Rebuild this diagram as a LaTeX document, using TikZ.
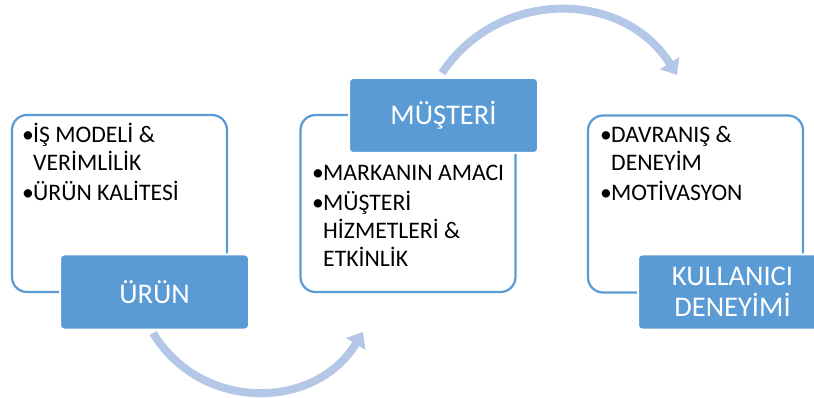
\documentclass[tikz,border=0pt]{standalone}
\usepackage{fontspec}
\setmainfont{Carlito}
\usetikzlibrary{arrows.meta,positioning}
\definecolor{smartBlue}{RGB}{91,155,213}
\definecolor{flowBlue}{RGB}{180,199,231}
\newcommand{\bul}{\makebox[11pt][l]{\textbullet}}

\begin{document}
\begin{tikzpicture}[
        x=1pt, y=-1pt,
        panel/.style={draw=smartBlue, line width=2.25pt, rounded corners=15pt,
          fill=white, minimum width=215pt, minimum height=177pt, inner sep=0pt},
        tag/.style={draw=white, line width=2pt, fill=smartBlue, rounded corners=4pt,
          minimum width=189pt, minimum height=75pt, inner sep=0pt, text=white,
          align=center, font=\fontsize{28.5}{31}\selectfont},
        notes/.style={anchor=base west, inner sep=0pt, font=\fontsize{23.7}{28}\selectfont},
        flow/.style={draw=flowBlue, line width=8pt, -{Triangle[width=22pt,length=14pt]}}
      ]
        \useasboundingbox (0,0) rectangle (814,398);
        % Curved arrows between the stages
        \coordinate (lowStart) at (153,333);
        \coordinate (lowEnd) at (363,332);
        \draw[flow] (lowStart) .. controls (201,412) and (315,411) .. (lowEnd);
        \coordinate (highStart) at (442,73);
        \coordinate (highEnd) at (677,75);
        \draw[flow] (highStart) .. controls (498,-11.5) and (623,-11) .. (highEnd);
        % Outlined panels
        \node[panel] (urunBox) at (119.5,203.5) {};
        \node[panel] (musteriBox) at (408,203.5) {};
        \node[panel] (kullaniciBox) at (695.5,204) {};
        % Bullet lists
        \node[notes] (urunList) at (22,143) {\begin{tabular}[t]{@{}l@{}l@{}}
            \bul & İŞ MODELİ \&\\ & VERİMLİLİK\\[2pt]
            \bul & ÜRÜN KALİTESİ\end{tabular}};
        \node[notes] (musteriList) at (312,181) {\begin{tabular}[t]{@{}l@{}l@{}}
            \bul & MARKANIN AMACI\\[2pt]
            \bul & MÜŞTERİ\\ & HİZMETLERİ \&\\ & ETKİNLİK\end{tabular}};
        \node[notes] (kullaniciList) at (600,143) {\begin{tabular}[t]{@{}l@{}l@{}}
            \bul & DAVRANIŞ \&\\ & DENEYİM\\[2pt]
            \bul & MOTİVASYON\end{tabular}};
        % Stage labels
        \node[tag] (urun) at (154.5,292) {ÜRÜN};
        \node[tag] (musteri) at (443.5,115.5) {MÜŞTERİ};
        \node[tag] (kullanici) at (732.5,292) {KULLANICI\\DENEYİMİ};
      \end{tikzpicture}
\end{document}
